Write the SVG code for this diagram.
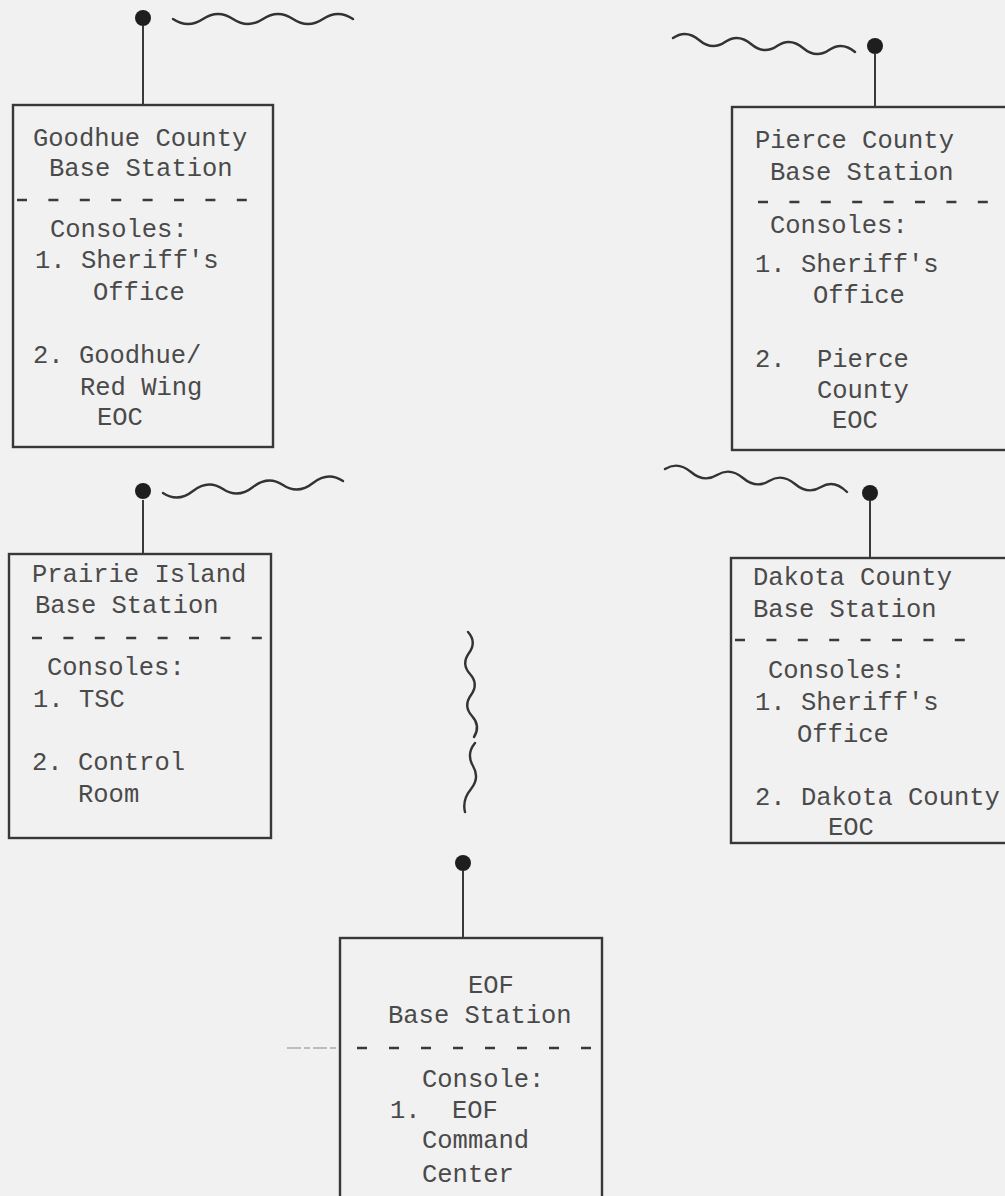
<svg xmlns="http://www.w3.org/2000/svg" width="1005" height="1196" viewBox="0 0 1005 1196">
<style>
.bg{fill:#f1f1f1}
.box{fill:none;stroke:#383838;stroke-width:2.4}
.div{stroke:#3a3a3a;stroke-width:2.6;stroke-dasharray:10 21.4}
.stem{stroke:#3a3a3a;stroke-width:2}
.dot{fill:#1e1e1e}
.wave{fill:none;stroke:#333;stroke-width:2.4;stroke-linecap:round}
text{font-family:"Liberation Mono","DejaVu Sans Mono",monospace;font-size:25.5px;fill:#4a4a4a}
</style>
<rect class="bg" x="0" y="0" width="1005" height="1196"/>

<g id="goodhue">
<rect class="box" x="13" y="105" width="260" height="342"/>
<line class="stem" x1="143" y1="26" x2="143" y2="105"/>
<circle class="dot" cx="143" cy="18" r="8"/>
<text x="33" y="146">Goodhue County</text>
<text x="49" y="176">Base Station</text>
<line class="div" x1="17" y1="200" x2="252" y2="200"/>
<text x="50" y="237">Consoles:</text>
<text x="35" y="268">1. Sheriff's</text>
<text x="93" y="300">Office</text>
<text x="33" y="363">2. Goodhue/</text>
<text x="80" y="395">Red Wing</text>
<text x="97" y="425">EOC</text>
</g>

<g id="pierce">
<rect class="box" x="732" y="107" width="300" height="343"/>
<line class="stem" x1="875" y1="54" x2="875" y2="107"/>
<circle class="dot" cx="875" cy="46" r="8"/>
<text x="755" y="148">Pierce County</text>
<text x="770" y="180">Base Station</text>
<line class="div" x1="758" y1="202" x2="990" y2="202"/>
<text x="770" y="233">Consoles:</text>
<text x="755" y="272">1. Sheriff's</text>
<text x="813" y="303">Office</text>
<text x="755" y="367">2.</text>
<text x="817" y="367">Pierce</text>
<text x="817" y="398">County</text>
<text x="832" y="428">EOC</text>
</g>

<g id="prairie">
<rect class="box" x="9" y="554" width="262" height="284"/>
<line class="stem" x1="143" y1="500" x2="143" y2="554"/>
<circle class="dot" cx="143" cy="491" r="8"/>
<text x="32" y="582">Prairie Island</text>
<text x="35" y="613">Base Station</text>
<line class="div" x1="32" y1="638" x2="264" y2="638"/>
<text x="47" y="675">Consoles:</text>
<text x="33" y="707">1. TSC</text>
<text x="32" y="770">2. Control</text>
<text x="78" y="802">Room</text>
</g>

<g id="dakota">
<rect class="box" x="731" y="558" width="300" height="285"/>
<line class="stem" x1="870" y1="501" x2="870" y2="558"/>
<circle class="dot" cx="870" cy="493" r="8"/>
<text x="753" y="585">Dakota County</text>
<text x="753" y="617">Base Station</text>
<line class="div" x1="735" y1="640" x2="967" y2="640"/>
<text x="768" y="678">Consoles:</text>
<text x="755" y="710">1. Sheriff's</text>
<text x="797" y="742">Office</text>
<text x="755" y="805">2. Dakota County</text>
<text x="828" y="835">EOC</text>
</g>

<g id="eof">
<rect class="box" x="340" y="938" width="262" height="280"/>
<line class="stem" x1="463" y1="871" x2="463" y2="938"/>
<circle class="dot" cx="463" cy="863" r="8"/>
<line x1="287" y1="1048" x2="337" y2="1048" stroke="#8a8a8a" stroke-width="1.2" stroke-dasharray="14 3 6 3"/>
<text x="468" y="993">EOF</text>
<text x="388" y="1023">Base Station</text>
<line class="div" x1="357" y1="1048" x2="594" y2="1048" style="stroke-dasharray:10 22"/>
<text x="422" y="1087">Console:</text>
<text x="390" y="1118">1.</text>
<text x="452" y="1118">EOF</text>
<text x="422" y="1148">Command</text>
<text x="422" y="1182">Center</text>
</g>

<g id="connectors">
<path class="wave" d="M173,19 q15,10 30,0 t30,0 t30,0 t30,0 t30,0 t30,0"/>
<path class="wave" d="M673,38 q13,-9 26,2 t26,2 t26,2 t26,2 t26,2 t26,2 t26,2"/>
<path class="wave" d="M163,493 q15,10 30,-2 t30,-2 t30,-2 t30,-2 t30,-2 t30,-2"/>
<path class="wave" d="M665,469 q13,-8 26,3 t26,3 t26,3 t26,3 t26,3 t26,3 t26,5"/>
<path class="wave" d="M468,632 q9,10 1,21 t1,21 t1,21 t1,21 t2,21"/>
<path class="wave" d="M475,743 q-9,11 -2,23 t-2,23 t-6,23"/>
</g>
</svg>
